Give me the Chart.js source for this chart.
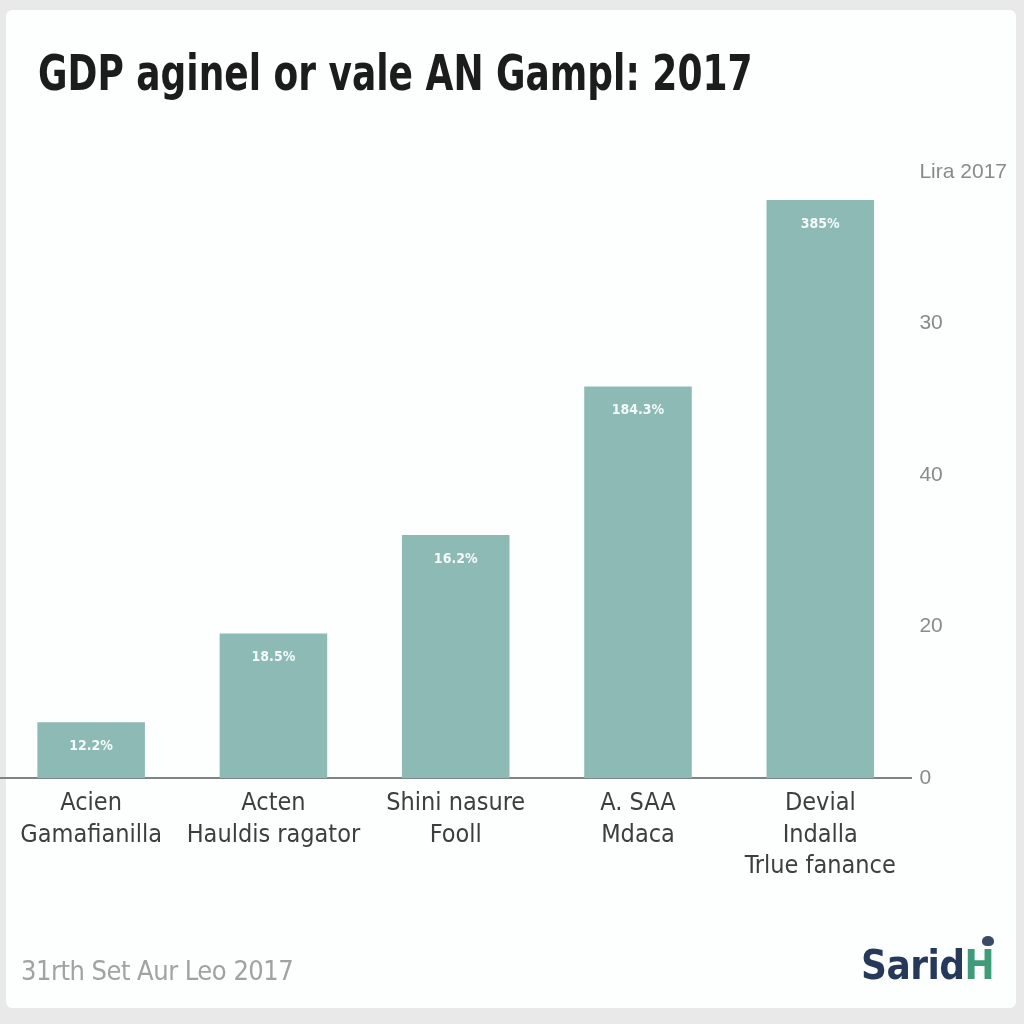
<!DOCTYPE html>
<html>
<head>
<meta charset="utf-8">
<script src="https://cdn.jsdelivr.net/npm/chart.js@4.4.1/dist/chart.umd.min.js"></script>
<style>
  html, body { margin: 0; padding: 0; background: #e9e9e9; }
  #wrap { position: relative; width: 1024px; height: 1024px; overflow: hidden; }
  #card { position: absolute; left: 6px; top: 10px; width: 1010px; height: 998px; background: #fdfefe; border-radius: 6px; }
  #c { position: absolute; left: 0; top: 0; }
  #title { position: absolute; left: 38px; top: 44px; margin: 0; font: bold 50px "DejaVu Sans Condensed", "Liberation Sans", sans-serif; color: #1c1c1c; white-space: nowrap; transform: scaleX(0.80); transform-origin: 0 0; }
  #foot { position: absolute; left: 21px; top: 955px; font: 27px "DejaVu Sans Condensed", "Liberation Sans", sans-serif; color: #a2a2a2; white-space: nowrap; letter-spacing: -0.5px; }
  #logo { position: absolute; left: 861px; top: 942px; font: bold 40px "DejaVu Sans Condensed", "Liberation Sans", sans-serif; color: #27395b; white-space: nowrap; letter-spacing: -0.5px; }
  #logo span { color: #3f9b7a; }
  #dot { position: absolute; left: 982px; top: 936px; width: 12px; height: 10px; border-radius: 50% 50% 40% 40%; background: #3a4a66; }
</style>
</head>
<body>
<div id="wrap">
  <div id="card"></div>
  <canvas id="c" width="1024" height="1024"></canvas>
  <h1 id="title">GDP aginel or vale AN Gampl: 2017</h1>
  <div id="foot">31rth Set Aur Leo 2017</div>
  <div id="dot"></div>
  <div id="logo">Sarid<span>H</span></div>
</div>
<script>
const categories = [
  ["Acien", "Gamafianilla"],
  ["Acten", "Hauldis ragator"],
  ["Shini nasure", "Fooll"],
  ["A. SAA", "Mdaca"],
  ["Devial", "Indalla", "Trlue fanance"]
];
const values = [7.4, 19.1, 32.1, 51.7, 76.3];
const barLabels = ["12.2%", "18.5%", "16.2%", "184.3%", "385%"];
const tickLabels = ["0", "20", "40", "30", "Lira 2017"];

const barColor = "#8dbab5";

const barLabelPlugin = {
  id: "barLabels",
  afterDatasetsDraw(chart) {
    const ctx = chart.ctx;
    const meta = chart.getDatasetMeta(0);
    ctx.save();
    ctx.fillStyle = "#f4fbfa";
    ctx.font = "bold 14px 'DejaVu Sans Condensed', sans-serif";
    ctx.textAlign = "center";
    ctx.textBaseline = "middle";
    meta.data.forEach((bar, i) => {
      ctx.fillText(barLabels[i], bar.x, bar.y + 24);
    });
    ctx.restore();
  }
};

new Chart(document.getElementById("c"), {
  type: "bar",
  data: {
    labels: categories,
    datasets: [{
      data: values,
      backgroundColor: barColor,
      borderWidth: 0,
      barPercentage: 0.59,
      categoryPercentage: 1.0
    }]
  },
  options: {
    responsive: false,
    animation: false,
    events: [],
    layout: { padding: { left: 0, right: 9, top: 172, bottom: 132 } },
    plugins: {
      legend: { display: false },
      tooltip: { enabled: false },
      title: { display: false }
    },
    scales: {
      x: {
        grid: { display: false, drawTicks: false },
        border: { display: true, color: "#7d8485", width: 2 },
        ticks: {
          color: "#3e3e3e",
          padding: 10,
          maxRotation: 0,
          autoSkip: false,
          font: { family: "'DejaVu Sans Condensed', 'Liberation Sans', sans-serif", size: 25, lineHeight: 1.25 }
        }
      },
      y: {
        position: "right",
        min: 0,
        max: 80,
        grid: { display: false, drawTicks: false },
        border: { display: false },
        ticks: {
          stepSize: 20,
          padding: 8,
          color: "#8a8a8a",
          font: { family: "'Liberation Sans', 'DejaVu Sans', sans-serif", size: 21 },
          callback: (v, i) => tickLabels[i]
        }
      }
    }
  },
  plugins: [barLabelPlugin]
});
</script>
</body>
</html>
